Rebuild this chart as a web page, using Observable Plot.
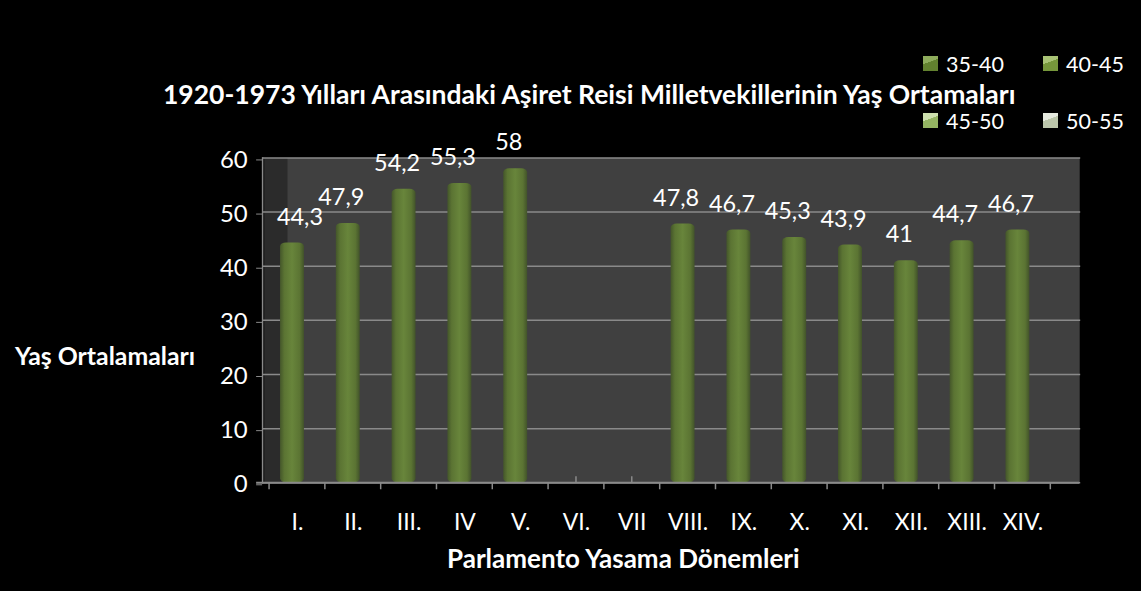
<!DOCTYPE html>
<html>
<head>
<meta charset="utf-8">
<script src="https://cdn.jsdelivr.net/npm/d3@7"></script>
<script src="https://cdn.jsdelivr.net/npm/@observablehq/plot@0.6"></script>
<style>
  html, body { margin: 0; padding: 0; background: #fff; }
  #chart { position: relative; width: 1141px; height: 591px; background: #000; overflow: hidden;
           font-family: Lato, "Open Sans", sans-serif; color: #fff; }
  #chart svg { position: absolute; left: 0; top: 0; }
  .txt { position: absolute; white-space: nowrap; line-height: 1; }
  #title { left: 163px; top: 81px; font-size: 26.5px; font-weight: bold; }
  #ytitle { left: 15px; top: 344px; font-size: 24.8px; font-weight: bold; }
  #xtitle { left: 447px; top: 545px; font-size: 26px; font-weight: bold; }
  #legend { position: absolute; left: 923px; top: 51px; display: grid;
            grid-template-columns: 120px 90px; row-gap: 32px; font-size: 21.5px; }
  .item { display: flex; align-items: center; height: 25px; }
  .sw { width: 15px; height: 15px; margin-right: 8px; }
</style>
</head>
<body>
<div id="chart"></div>
<script>
// ---- data ----
const terms = ["I.", "II.", "III.", "IV", "V.", "VI.", "VII", "VIII.", "IX.", "X.", "XI.", "XII.", "XIII.", "XIV."];
const ages = [44.3, 47.9, 54.2, 55.3, 58, null, null, 47.8, 46.7, 45.3, 43.9, 41, 44.7, 46.7];
const yTicks = [0, 10, 20, 30, 40, 50, 60];
const legendLabels = ["35-40", "40-45", "45-50", "50-55"];
const legendColors = [["#8eac5c", "#62812f"], ["#a9c375", "#76973b"], ["#cde0ad", "#94b462"], ["#e6eadf", "#bcc6ab"]];
const titleText = "1920-1973 Yılları Arasındaki Aşiret Reisi Milletvekillerinin Yaş Ortamaları";
const yTitleText = "Yaş Ortalamaları";
const xTitleText = "Parlamento Yasama Dönemleri";

const table = terms.map((t, i) => ({term: t, age: ages[i]}));
const bars = table.filter(d => d.age != null);
const fmt = v => String(v).replace(".", ",");
const grid = "#8a8a8a";

// decorative 3D axis ticks (band boundaries below axis, band centres on back wall)
function axisTicks(index, scales) {
  const sx = scales.x, sy = scales.y;
  const r0 = sx(terms[0]);
  const step = sx(terms[1]) - sx(terms[0]);
  const y0 = sy(0);
  const g = d3.create("svg:g").attr("stroke", grid).attr("stroke-width", 1.5);
  for (let i = 0; i <= terms.length; i++) {
    const x = r0 + i * step;
    g.append("line").attr("x1", x).attr("x2", x).attr("y1", y0).attr("y2", y0 + 7);
  }
  for (let i = 0; i < terms.length; i++) {
    const x = r0 + (i + 0.5) * step;
    g.append("line").attr("x1", x).attr("x2", x).attr("y1", y0 - 6).attr("y2", y0);
  }
  return g.node();
}

const plot = Plot.plot({
  width: 1145,
  height: 591,
  marginLeft: 263,
  marginRight: 60,
  marginTop: 158,
  marginBottom: 107,
  style: {background: "transparent", color: "#fff", fontFamily: "Lato, sans-serif", overflow: "visible"},
  x: {domain: terms, padding: 0, insetLeft: 2, insetRight: 27, label: null},
  y: {domain: [0, 60], label: null},
  marks: [
    Plot.frame({fill: "#404040", insetLeft: 2, insetRight: 2}),
    Plot.frame({fill: "#2b2b2b", insetLeft: 2, insetRight: 797}),
    Plot.ruleY(yTicks, {stroke: grid, strokeWidth: 1.5, insetRight: 1}),
    axisTicks,
    Plot.barY(bars, {x: "term", y: "age", fill: "url(#barGrad)", insetLeft: 16, insetRight: 16, dx: -5, rx: 6, ry: 4}),
    Plot.axisY({ticks: yTicks, tickSize: 6, tickPadding: 9, fontSize: 24, stroke: grid, fill: "#fff", dy: 2, label: null, tickFormat: d => String(d)}),
    Plot.axisX({tickSize: 0, tickPadding: 31, fontSize: 23, fill: "#fff", label: null}),
    Plot.frame({anchor: "left", stroke: grid, strokeWidth: 1.5}),
    Plot.ruleY([0], {stroke: grid, strokeWidth: 2, insetLeft: -6, insetRight: 2}),
    Plot.text(bars, {x: "term", y: "age", text: d => fmt(d.age), dx: -12, dy: -26, fill: "#fff", fontSize: 23.5, className: "vlabel"})
  ]
});

d3.select(plot).insert("defs", ":first-child").html(`
  <linearGradient id="barGrad" x1="0" x2="1" y1="0" y2="0">
    <stop offset="0%" stop-color="#44562a"/>
    <stop offset="18%" stop-color="#5b7433"/>
    <stop offset="50%" stop-color="#68853b"/>
    <stop offset="82%" stop-color="#5b7433"/>
    <stop offset="100%" stop-color="#42532a"/>
  </linearGradient>`);

const chart = document.getElementById("chart");
chart.appendChild(plot);

// keep value labels inside the plot wall (as the original does for the first label)
const svgRect = plot.getBoundingClientRect();
const minLeft = 263 + 14;
d3.select(plot).selectAll(".vlabel text").each(function() {
  const r = this.getBoundingClientRect();
  const left = r.left - svgRect.left;
  if (left < minLeft) {
    const shift = minLeft - left;
    const t = this.getAttribute("transform") || "";
    this.setAttribute("transform", `translate(${shift},0) ` + t);
  }
});

// titles
function addText(id, text) {
  const d = document.createElement("div");
  d.id = id; d.className = "txt"; d.textContent = text;
  chart.appendChild(d);
}
addText("title", titleText);
addText("ytitle", yTitleText);
addText("xtitle", xTitleText);

// legend
const leg = document.createElement("div");
leg.id = "legend";
legendLabels.forEach((lab, i) => {
  const it = document.createElement("div");
  it.className = "item";
  const sw = document.createElement("span");
  sw.className = "sw";
  sw.style.background = `linear-gradient(160deg, ${legendColors[i][0]} 0%, ${legendColors[i][0]} 40%, ${legendColors[i][1]} 41%, ${legendColors[i][1]} 100%)`;
  const tx = document.createElement("span");
  tx.textContent = lab;
  it.appendChild(sw); it.appendChild(tx);
  leg.appendChild(it);
});
chart.appendChild(leg);
</script>
</body>
</html>
